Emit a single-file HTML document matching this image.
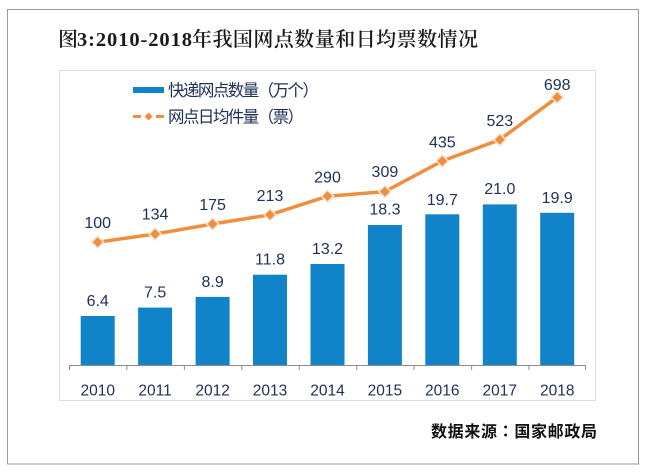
<!DOCTYPE html>
<html>
<head>
<meta charset="utf-8">
<style>
  html, body { margin:0; padding:0; background:#ffffff; }
  body { width:650px; height:472px; overflow:hidden; }
  svg { display:block; }
</style>
</head>
<body>
<svg width="650" height="472" viewBox="0 0 650 472" xmlns="http://www.w3.org/2000/svg">
  <rect x="0" y="0" width="650" height="472" fill="#ffffff"/>
  <!-- outer frame -->
  <rect x="7.5" y="9.5" width="631" height="454.5" fill="#ffffff" stroke="#9a9a9a" stroke-width="1"/>

  <!-- title -->
  <text x="58" y="46" font-family="'Liberation Serif','Noto Serif CJK SC',serif" font-weight="600" font-size="20" fill="#1a1a1a">图</text>
  <text x="77" y="46" font-family="'Liberation Serif',serif" font-weight="bold" font-size="20.5" fill="#1a1a1a" textLength="115" lengthAdjust="spacing">3:2010-2018</text>
  <text x="192" y="46" font-family="'Liberation Serif','Noto Serif CJK SC',serif" font-weight="600" font-size="20" fill="#1a1a1a" textLength="286" lengthAdjust="spacing">年我国网点数量和日均票数情况</text>

  <!-- inner chart box -->
  <rect x="59.5" y="70.5" width="536" height="330" fill="#ffffff" stroke="#dcdcdc" stroke-width="1"/>

  <!-- legend -->
  <rect x="133" y="87" width="31" height="6" fill="#1183c8"/>
  <text x="168" y="96" font-family="'Liberation Sans','Noto Sans CJK SC',sans-serif" font-size="16.5" fill="#1f2f56" textLength="151" lengthAdjust="spacing">快递网点数量（万个）</text>
  <line x1="133" y1="116.5" x2="141" y2="116.5" stroke="#ee8e3e" stroke-width="3"/>
  <line x1="156" y1="116.5" x2="164" y2="116.5" stroke="#ee8e3e" stroke-width="3"/>
  <polygon points="148.5,112.5 152.5,116.5 148.5,120.5 144.5,116.5" fill="#ee8e3e"/>
  <text x="168" y="122.5" font-family="'Liberation Sans','Noto Sans CJK SC',sans-serif" font-size="16.5" fill="#1f2f56" textLength="136" lengthAdjust="spacing">网点日均件量（票）</text>

  <!-- bars -->
  <g fill="#1183c8">
    <rect x="80.7" y="316.0" width="34" height="49.0"/>
    <rect x="138.1" y="307.6" width="34" height="57.4"/>
    <rect x="195.6" y="296.9" width="34" height="68.1"/>
    <rect x="253.0" y="274.7" width="34" height="90.3"/>
    <rect x="310.5" y="264.0" width="34" height="101.0"/>
    <rect x="367.9" y="225.0" width="34" height="140.0"/>
    <rect x="425.3" y="214.3" width="34" height="150.7"/>
    <rect x="482.8" y="204.4" width="34" height="160.6"/>
    <rect x="540.2" y="212.8" width="34" height="152.2"/>
  </g>

  <!-- axis -->
  <line x1="69" y1="365.5" x2="586" y2="365.5" stroke="#8c8c8c" stroke-width="1"/>
  <g stroke="#8c8c8c" stroke-width="1">
    <line x1="69.5" y1="365" x2="69.5" y2="370"/>
    <line x1="126.9" y1="365" x2="126.9" y2="370"/>
    <line x1="184.4" y1="365" x2="184.4" y2="370"/>
    <line x1="241.8" y1="365" x2="241.8" y2="370"/>
    <line x1="299.3" y1="365" x2="299.3" y2="370"/>
    <line x1="356.7" y1="365" x2="356.7" y2="370"/>
    <line x1="414.1" y1="365" x2="414.1" y2="370"/>
    <line x1="471.6" y1="365" x2="471.6" y2="370"/>
    <line x1="529.0" y1="365" x2="529.0" y2="370"/>
    <line x1="585.5" y1="365" x2="585.5" y2="370"/>
  </g>

  <!-- year labels -->
  <g font-family="'Liberation Sans',sans-serif" font-size="15.5" fill="#1f2f56" text-anchor="middle">
    <text x="97.7" y="395.5">2010</text>
    <text x="155.1" y="395.5">2011</text>
    <text x="212.6" y="395.5">2012</text>
    <text x="270.0" y="395.5">2013</text>
    <text x="327.5" y="395.5">2014</text>
    <text x="384.9" y="395.5">2015</text>
    <text x="442.3" y="395.5">2016</text>
    <text x="499.8" y="395.5">2017</text>
    <text x="557.2" y="395.5">2018</text>
  </g>

  <!-- orange line -->
  <polyline points="97.7,242.2 155.1,234.0 212.6,224.0 270.0,214.8 327.5,196.2 384.9,191.6 442.3,161.0 499.8,139.7 557.2,97.3"
            fill="none" stroke="#ee8e3e" stroke-width="3.5" stroke-linejoin="round"/>
  <g fill="#ee8e3e" stroke="#fbe3cf" stroke-width="1.5">
    <polygon points="97.7,236.2 103.7,242.2 97.7,248.2 91.7,242.2"/>
    <polygon points="155.1,228.0 161.1,234.0 155.1,240.0 149.1,234.0"/>
    <polygon points="212.6,218.0 218.6,224.0 212.6,230.0 206.6,224.0"/>
    <polygon points="270.0,208.8 276.0,214.8 270.0,220.8 264.0,214.8"/>
    <polygon points="327.5,190.2 333.5,196.2 327.5,202.2 321.5,196.2"/>
    <polygon points="384.9,185.6 390.9,191.6 384.9,197.6 378.9,191.6"/>
    <polygon points="442.3,155.0 448.3,161.0 442.3,167.0 436.3,161.0"/>
    <polygon points="499.8,133.7 505.8,139.7 499.8,145.7 493.8,139.7"/>
    <polygon points="557.2,91.3 563.2,97.3 557.2,103.3 551.2,97.3"/>
  </g>

  <!-- line labels -->
  <g font-family="'Liberation Sans',sans-serif" font-size="16" fill="#1f2f56" text-anchor="middle">
    <text x="97.7" y="228">100</text>
    <text x="155.1" y="219.5">134</text>
    <text x="212.6" y="210">175</text>
    <text x="270.0" y="201">213</text>
    <text x="327.5" y="182.5">290</text>
    <text x="384.9" y="177">309</text>
    <text x="442.3" y="147.5">435</text>
    <text x="499.8" y="126">523</text>
    <text x="557.2" y="90">698</text>
  </g>

  <!-- bar labels -->
  <g font-family="'Liberation Sans',sans-serif" font-size="16" fill="#1f2f56" text-anchor="middle">
    <text x="97.7" y="306">6.4</text>
    <text x="155.1" y="297.6">7.5</text>
    <text x="212.6" y="287">8.9</text>
    <text x="270.0" y="264.7">11.8</text>
    <text x="327.5" y="254">13.2</text>
    <text x="384.9" y="214.5">18.3</text>
    <text x="442.3" y="204.8">19.7</text>
    <text x="499.8" y="194.2">21.0</text>
    <text x="557.2" y="202.8">19.9</text>
  </g>

  <!-- source -->
  <text x="431" y="437" font-family="'Liberation Sans','Noto Sans CJK SC',sans-serif" font-weight="bold" font-size="16" fill="#111111" textLength="166" lengthAdjust="spacing">数据来源<tspan font-family="'Noto Sans CJK TC',sans-serif">：</tspan>国家邮政局</text>
</svg>
</body>
</html>
